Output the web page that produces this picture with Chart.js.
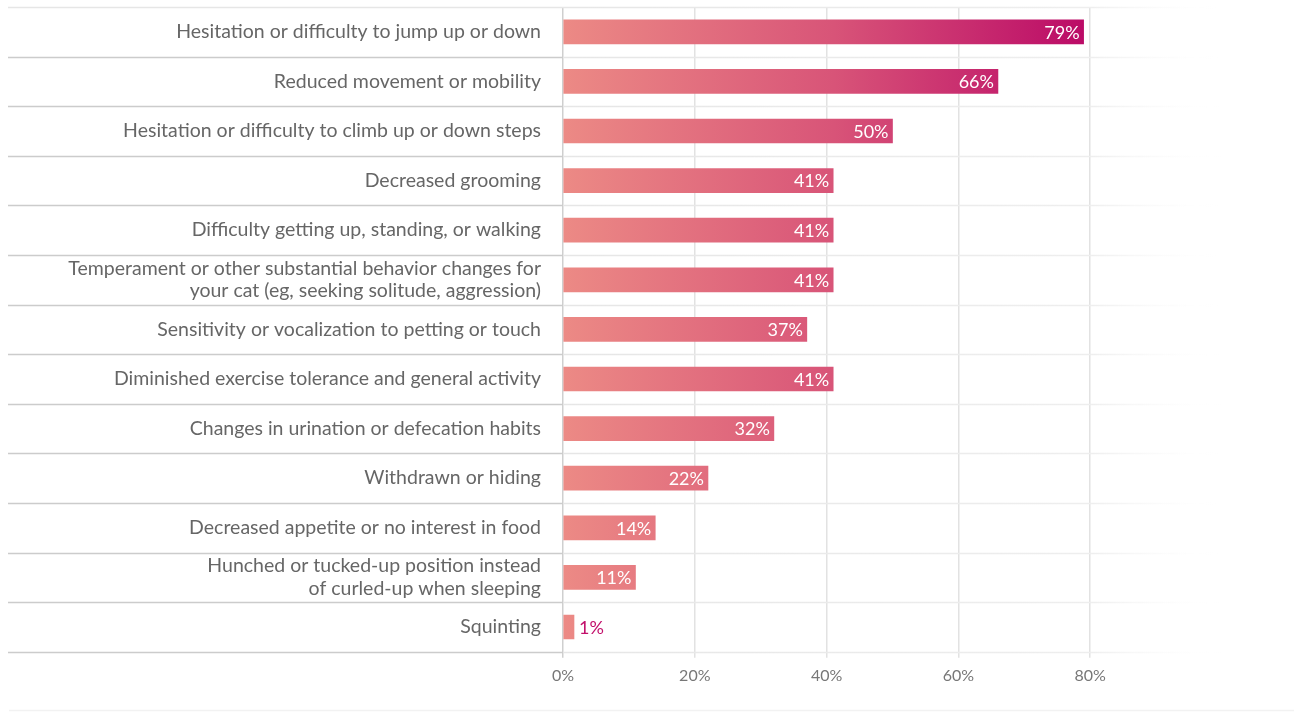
<!DOCTYPE html>
<html>
<head>
<meta charset="utf-8">
<script src="https://cdn.jsdelivr.net/npm/chart.js@4"></script>
<style>
  html, body { margin: 0; padding: 0; background: #fff; }
  #wrap { width: 1294px; height: 712px; position: relative; }
</style>
</head>
<body>
<div id="wrap"><canvas id="chart"></canvas></div>
<script>
const categories = [
    'Hesitation or difficulty to jump up or down',
    'Reduced movement or mobility',
    'Hesitation or difficulty to climb up or down steps',
    'Decreased grooming',
    'Difficulty getting up, standing, or walking',
    ['Temperament or other substantial behavior changes for', 'your cat (eg, seeking solitude, aggression)'],
    'Sensitivity or vocalization to petting or touch',
    'Diminished exercise tolerance and general activity',
    'Changes in urination or defecation habits',
    'Withdrawn or hiding',
    'Decreased appetite or no interest in food',
    ['Hunched or tucked-up position instead', 'of curled-up when sleeping'],
    'Squinting',
];
const values = [79, 66, 50, 41, 41, 41, 37, 41, 32, 22, 14, 11, 1];
const tickValues = [0, 20, 40, 60, 80];

const FONT = 'Lato, "Open Sans", sans-serif';

// row separators across the labels and the plot
const rowLines = {
    id: 'rowLines',
    beforeDatasetsDraw(chart) {
        const { ctx, chartArea, scales: { y } } = chart;
        ctx.save();
        ctx.lineWidth = 1.5;
        for (let i = 0; i <= categories.length; i++) {
            const py = Math.round(y.getPixelForValue(i - 0.5)) + 0.5;
            ctx.strokeStyle = i === 0 ? '#e6e6e6' : '#cccccc';
            ctx.beginPath();
            ctx.moveTo(8, py);
            ctx.lineTo(chartArea.left, py);
            ctx.stroke();
            const g = ctx.createLinearGradient(chartArea.left, 0, chartArea.right, 0);
            g.addColorStop(0, '#e6e6e6');
            g.addColorStop(0.8, '#eeeeee');
            g.addColorStop(1, 'rgba(255,255,255,0)');
            ctx.strokeStyle = g;
            ctx.beginPath();
            ctx.moveTo(chartArea.left, py);
            ctx.lineTo(chartArea.right, py);
            ctx.stroke();
        }
        ctx.strokeStyle = '#f2f2f2';
        ctx.beginPath();
        ctx.moveTo(9, chart.height - 1.5);
        ctx.lineTo(chart.width, chart.height - 1.5);
        ctx.stroke();
        ctx.restore();
    }
};

// value labels at the bar ends
const barValues = {
    id: 'barValues',
    afterDatasetsDraw(chart) {
        const { ctx } = chart;
        const meta = chart.getDatasetMeta(0);
        ctx.save();
        ctx.font = '18px ' + FONT;
        ctx.textBaseline = 'middle';
        meta.data.forEach((bar, i) => {
            const v = values[i];
            if (v >= 5) {
                ctx.fillStyle = '#ffffff';
                ctx.textAlign = 'right';
                ctx.fillText(v + '%', bar.x - 4, bar.y + 1);
            } else {
                ctx.fillStyle = '#c2106b';
                ctx.textAlign = 'left';
                ctx.fillText(v + '%', bar.x + 5, bar.y + 1);
            }
        });
        ctx.restore();
    }
};

new Chart(document.getElementById('chart'), {
    type: 'bar',
    data: {
        labels: categories,
        datasets: [{
            data: values,
            barThickness: 24,
            minBarLength: 11,
            backgroundColor: function(context) {
                const chart = context.chart;
                const { ctx, chartArea, scales } = chart;
                if (!chartArea) return '#e0607a';
                const x0 = scales.x.getPixelForValue(0);
                const x1 = scales.x.getPixelForValue(Math.max(...values));
                const g = ctx.createLinearGradient(x0, 0, x1, 0);
                g.addColorStop(0, '#ec8a85');
                g.addColorStop(0.52, '#d85478');
                g.addColorStop(1, '#bb0b67');
                return g;
            },
            borderWidth: 0,
        }],
    },
    options: {
        indexAxis: 'y',
        responsive: true,
        maintainAspectRatio: false,
        animation: false,
        layout: {
            padding: { left: 8, right: 72, top: 7, bottom: 19 },
        },
        plugins: {
            legend: { display: false },
            tooltip: { enabled: false },
        },
        scales: {
            x: {
                min: 0,
                max: 100,
                afterBuildTicks: function(scale) {
                    scale.ticks = tickValues.map(v => ({ value: v }));
                },
                afterFit: function(scale) {
                    scale.paddingLeft = 0;
                    scale.paddingRight = 0;
                },
                grid: {
                    color: function(context) {
                        return context.tick && context.tick.value === 0 ? '#cfcfcf' : '#e2e2e2';
                    },
                    lineWidth: 1.5,
                    tickLength: 6,
                },
                border: { display: false },
                ticks: {
                    padding: 8,
                    color: '#777777',
                    font: { family: FONT, size: 16 },
                    callback: function(value) { return value + '%'; },
                },
            },
            y: {
                afterFit: function(scale) {
                    scale.width = 555;
                    scale.paddingTop = 0;
                    scale.paddingBottom = 0;
                },
                grid: { display: false },
                border: { display: false },
                ticks: {
                    padding: 14,
                    color: '#666666',
                    font: { family: FONT, size: 19.5, lineHeight: 1.15 },
                },
            },
        },
    },
    plugins: [rowLines, barValues],
});
</script>
</body>
</html>
